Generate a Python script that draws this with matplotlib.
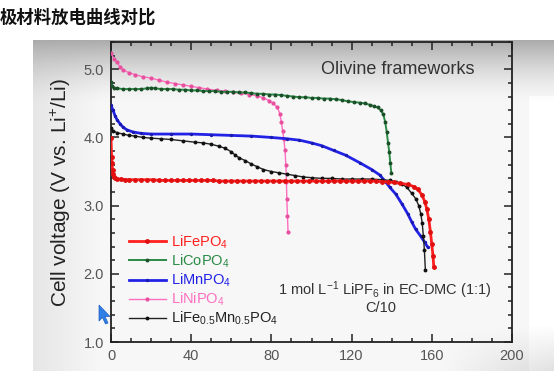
import numpy as np
import matplotlib
matplotlib.use("Agg")
import matplotlib.pyplot as plt
from matplotlib.ticker import MultipleLocator, FormatStrFormatter
from matplotlib.patches import Polygon

plt.rcParams['font.family'] = ['Liberation Sans', 'Noto Sans CJK SC', 'DejaVu Sans']
plt.rcParams['mathtext.fontset'] = 'custom'
plt.rcParams['mathtext.rm'] = 'Liberation Sans'
plt.rcParams['mathtext.it'] = 'Liberation Sans:italic'
plt.rcParams['mathtext.bf'] = 'Liberation Sans:bold'

# ---------------- data (specific capacity mAh/g, voltage V) ----------------
fe_x = [0, 0.3, 0.5, 0.8, 1, 1.5, 2, 3, 5, 7, 9, 12, 15, 18, 21, 24, 27, 30, 33, 36, 39,
        42, 45, 48, 51, 54, 57, 60, 63, 66, 69, 72, 75, 78, 81, 84, 87, 90, 93, 96, 99,
        102, 105, 108, 111, 114, 117, 120, 123, 126, 129, 132, 135, 138, 141, 144, 148,
        151, 153, 155, 156.5, 157.5, 158.5, 159.3, 160, 160.6, 161]
fe_y = [3.99, 3.72, 3.62, 3.52, 3.47, 3.42, 3.40, 3.39, 3.39, 3.38, 3.38, 3.38, 3.38, 3.38,
        3.38, 3.37, 3.37, 3.37, 3.37, 3.37, 3.37, 3.37, 3.37, 3.37, 3.37, 3.36, 3.36, 3.36,
        3.36, 3.36, 3.36, 3.36, 3.36, 3.36, 3.36, 3.36, 3.36, 3.36, 3.36, 3.36, 3.36, 3.36,
        3.36, 3.36, 3.36, 3.36, 3.36, 3.36, 3.36, 3.36, 3.36, 3.36, 3.35, 3.35, 3.34, 3.33,
        3.31, 3.28, 3.24, 3.16, 3.06, 2.95, 2.80, 2.62, 2.43, 2.26, 2.10]

co_x = [0, 0.5, 1.5, 3, 6, 9, 12, 15, 18, 20, 22, 25, 28, 31, 34, 37, 40, 43, 46, 49, 52,
        55, 58, 61, 64, 67, 70, 73, 76, 79, 82, 85, 88, 91, 94, 97, 100, 103, 106, 109,
        112, 115, 118, 121, 124, 126.5, 129, 131, 133, 134.5, 135.8, 136.8, 137.5, 138.2,
        138.8, 139.3, 139.8]
co_y = [4.82, 4.76, 4.73, 4.72, 4.71, 4.71, 4.71, 4.71, 4.72, 4.73, 4.72, 4.71, 4.71, 4.71,
        4.70, 4.70, 4.69, 4.69, 4.68, 4.68, 4.68, 4.67, 4.67, 4.67, 4.66, 4.66, 4.65, 4.64,
        4.64, 4.63, 4.63, 4.62, 4.61, 4.60, 4.59, 4.59, 4.58, 4.58, 4.57, 4.57, 4.56, 4.55,
        4.53, 4.52, 4.51, 4.50, 4.48, 4.46, 4.44, 4.40, 4.34, 4.22, 4.08, 3.92, 3.78, 3.63,
        3.48]

mn_x = [0, 1, 2, 3, 4.5, 6, 8, 11, 15, 20, 30, 40, 50, 60, 70, 80, 88, 94, 100, 105, 111,
        117, 124, 130, 134, 137, 139, 142, 145, 148, 150, 152, 154.5, 156.5, 158]
mn_y = [4.47, 4.40, 4.32, 4.26, 4.20, 4.15, 4.11, 4.08, 4.06, 4.05, 4.05, 4.05, 4.04, 4.03,
        4.02, 4.00, 3.98, 3.96, 3.92, 3.88, 3.81, 3.74, 3.63, 3.53, 3.45, 3.35, 3.27, 3.17,
        3.03, 2.88, 2.76, 2.65, 2.55, 2.46, 2.39]

ni_x = [0, 1.5, 3, 4.5, 6, 9, 12, 16, 20, 24, 28, 32, 36, 40, 44, 48, 53, 57, 61, 65, 69,
        73, 76, 79, 81, 83, 84.2, 85, 85.6, 86.2, 86.8, 87.2, 87.5, 87.7, 88, 88.3]
ni_y = [5.24, 5.15, 5.10, 5.04, 4.99, 4.95, 4.92, 4.89, 4.87, 4.84, 4.81, 4.79, 4.77, 4.75,
        4.73, 4.71, 4.69, 4.68, 4.66, 4.65, 4.63, 4.61, 4.58, 4.54, 4.50, 4.44, 4.35, 4.22,
        4.10, 3.97, 3.81, 3.60, 3.35, 3.10, 2.85, 2.62]

fm_x = [0, 1, 3, 6, 9, 12, 16, 20, 25, 30, 36, 42, 46, 50, 54, 57, 60, 62, 64, 67, 70, 73,
        76, 80, 84, 88, 92, 96, 100, 105, 110, 115, 120, 125, 130, 135, 139, 142, 145,
        147.5, 150, 152, 153.5, 154.5, 155.2, 155.8, 156.3, 156.8]
fm_y = [4.14, 4.10, 4.07, 4.05, 4.03, 4.02, 4.00, 3.99, 3.98, 3.97, 3.95, 3.93, 3.92, 3.90,
        3.87, 3.84, 3.79, 3.74, 3.70, 3.66, 3.61, 3.57, 3.53, 3.50, 3.48, 3.46, 3.44, 3.42,
        3.41, 3.40, 3.40, 3.39, 3.39, 3.39, 3.39, 3.38, 3.37, 3.35, 3.32, 3.27, 3.18, 3.10,
        3.00, 2.88, 2.75, 2.55, 2.35, 2.05]

labels = [r'LiFePO$_\mathregular{4}$', r'LiCoPO$_\mathregular{4}$', r'LiMnPO$_\mathregular{4}$',
          r'LiNiPO$_\mathregular{4}$', r'LiFe$_\mathregular{0.5}$Mn$_\mathregular{0.5}$PO$_\mathregular{4}$']
x_ticks = [0, 40, 80, 120, 160, 200]
y_ticks = [1.0, 2.0, 3.0, 4.0, 5.0]

W, H = 554, 371
fig = plt.figure(figsize=(W / 100, H / 100), dpi=100)

# ---------------- screenshot-like background ----------------
bg = fig.add_axes([0, 0, 1, 1], zorder=-10)
yy, xx = np.mgrid[0:H, 0:W].astype(float)
panel = (xx >= 33) & (yy >= 40)
val = np.full((H, W), 0.972)
top = np.clip(1 - (yy - 40) / 65.0, 0, 1) ** 1.6
val -= 0.30 * top
left = np.clip(1 - (xx - 33) / 70.0, 0, 1)
val -= 0.07 * left * (1 - top)
right = (xx > 528) & (yy > 95)
val = np.where(right, np.clip(val + 0.03, 0, 1), val)
bot = np.clip((yy - 325) / 46.0, 0, 1) * np.clip((xx - 440) / 114.0, 0, 1)
val -= 0.12 * bot
img = np.where(panel, val, 1.0)
bg.imshow(np.dstack([img, img, img]), extent=[0, 1, 0, 1], aspect='auto', interpolation='bilinear')
bg.set_axis_off()

fig.text(0.0, 1 - 18 / H, '极材料放电曲线对比', fontsize=12.5, fontweight='bold',
         family=['Noto Sans CJK SC'], va='center', ha='left', color='#111111')

ax = fig.add_axes([111 / W, 1 - 342 / H, (512 - 111) / W, (342 - 42) / H])
ax.set_facecolor('none')

ax.plot(fe_x, fe_y, '-o', color='#ff1f1f', lw=2.0, ms=2.5, mec='#e01010', mfc='#e01010',
        label=labels[0], zorder=5)
ax.plot(co_x, co_y, '-o', color='#2a8a46', lw=1.4, ms=1.8, mec='#1b4f28', mfc='#1b4f28',
        label=labels[1], zorder=4)
ax.plot(mn_x, mn_y, '-o', color='#2222e6', lw=2.0, ms=1.4, mec='#1a1ab0', mfc='#1a1ab0',
        label=labels[2], zorder=4)
ax.plot(ni_x, ni_y, '-o', color='#ff6ec0', lw=1.0, ms=2.0, mec='#e8509f', mfc='#e8509f',
        label=labels[3], zorder=3)
ax.plot(fm_x, fm_y, '-o', color='#222222', lw=1.0, ms=1.8, mec='#111111', mfc='#111111',
        label=labels[4], zorder=4)

ax.set_xlim(0, 200)
ax.set_ylim(1.0, 5.4)
ax.set_xticks(x_ticks)
ax.set_yticks(y_ticks)
ax.xaxis.set_minor_locator(MultipleLocator(10))
ax.yaxis.set_minor_locator(MultipleLocator(0.2))
ax.yaxis.set_major_formatter(FormatStrFormatter('%.1f'))
ax.tick_params(which='both', direction='in', top=True, right=True, width=1.1, color='#222222')
ax.tick_params(which='major', length=5.5, labelsize=10.5, labelcolor='#555555', pad=5)
ax.tick_params(which='minor', length=3)
for s in ax.spines.values():
    s.set_linewidth(1.3)
    s.set_color('#222222')

ax.set_ylabel('Cell voltage (V vs. Li$^{+}$/Li)', fontsize=15, color='#222222', labelpad=8)

ax.text(143, 4.99, 'Olivine frameworks', fontsize=13, color='#333333', ha='center', va='center')
ax.text(136.5, 1.76, r'1 mol L$^{\mathregular{-1}}$ LiPF$_\mathregular{6}$ in EC-DMC (1:1)',
        fontsize=10.5, color='#333333', ha='center', va='center')
ax.text(134.7, 1.50, 'C/10', fontsize=10.5, color='#333333', ha='center', va='center')

leg = ax.legend(loc='upper left', bbox_to_anchor=(0.045, 0.362), frameon=False, fontsize=10.5,
                handlelength=2.5, handletextpad=0.35, labelspacing=0.12, borderpad=0,
                borderaxespad=0, labelcolor='linecolor')

# mouse cursor from the screenshot
cur = [(99, 305), (99, 321), (102.5, 317.5), (105.5, 324), (108, 323), (105, 316.5), (110, 316.5)]
fig.patches.append(Polygon([(x / W, 1 - y / H) for x, y in cur], closed=True,
                           transform=fig.transFigure, facecolor='#2f7fe6', edgecolor='#1f5fc0',
                           lw=0.5, zorder=20))

fig.savefig('out.png', dpi=100)
